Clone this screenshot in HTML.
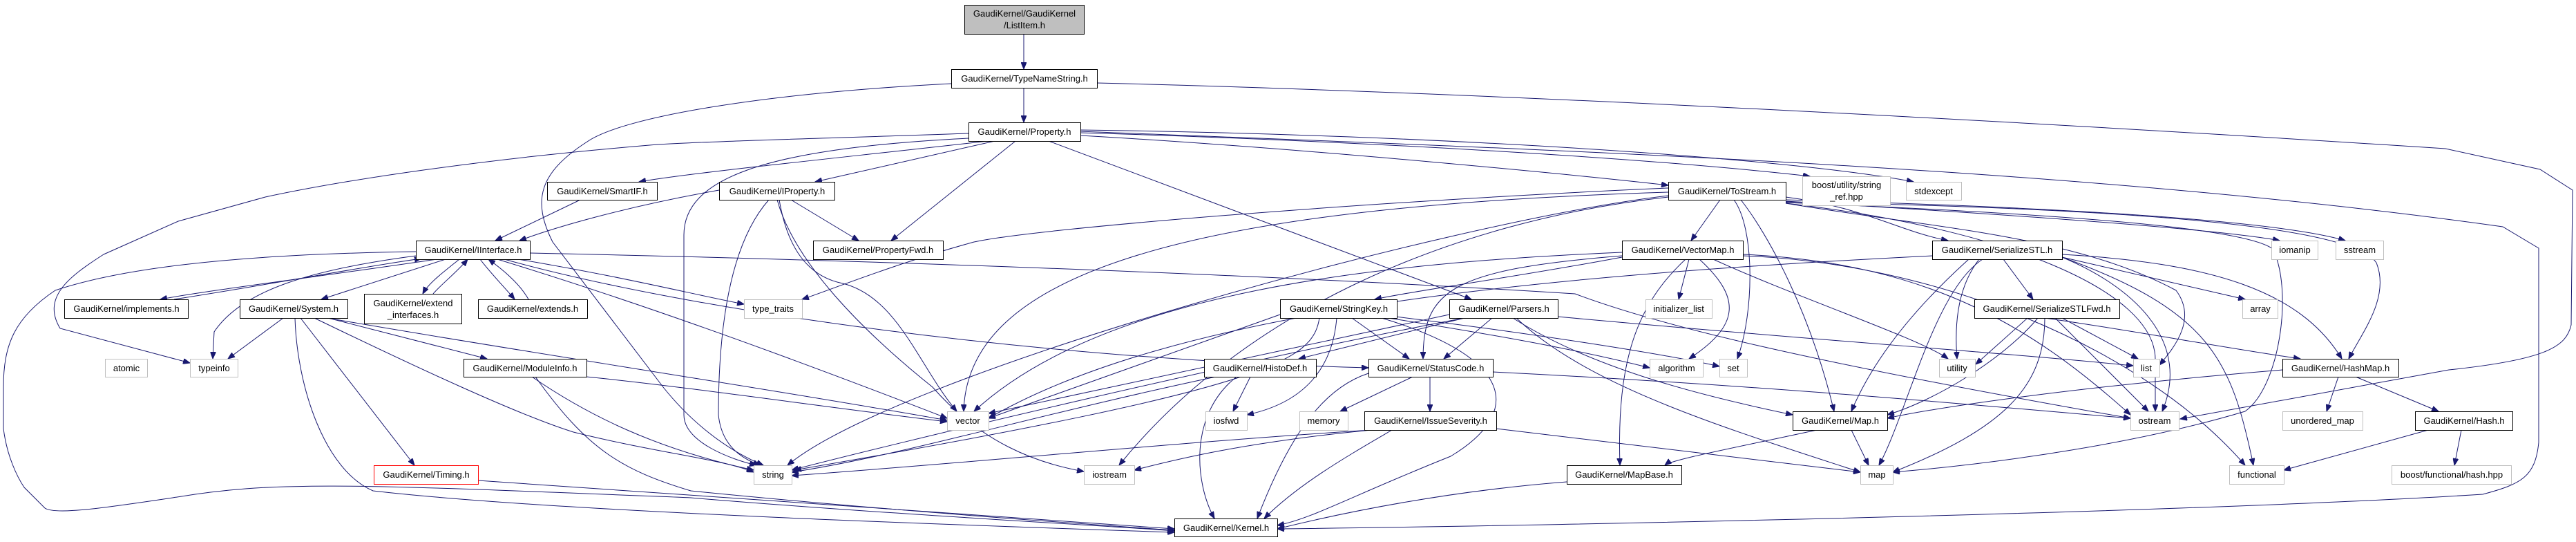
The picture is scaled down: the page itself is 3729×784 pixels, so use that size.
<!DOCTYPE html>
<html><head><meta charset="utf-8"><style>
html,body{margin:0;padding:0;background:#fff;width:3729px;height:784px;overflow:hidden}
svg{display:block}
text{font-family:"Liberation Sans",sans-serif;font-size:13px;fill:#000}
.n{fill:#fff;stroke:#000;stroke-width:1}
.g{fill:#fff;stroke:#bfbfbf;stroke-width:1}
.e{fill:none;stroke:#191970;stroke-width:1;marker-end:url(#a)}
</style></head><body>
<svg width="3729" height="784" viewBox="0 0 3729 784" xmlns="http://www.w3.org/2000/svg">
<defs><marker id="a" markerUnits="userSpaceOnUse" markerWidth="11" markerHeight="8" refX="10" refY="4" orient="auto"><path d="M0,0 L10,4 L0,8 z" fill="#191970" stroke="#191970"/></marker></defs>
<g>
<path class="e" d="M1482,49 L1482,100"/>
<path class="e" d="M1482,127 L1482,177"/>
<path class="e" d="M1377,121 C1100,135 900,170 850,205 C780,250 770,290 800,350 L960,560 C1000,610 1050,650 1105,673"/>
<path class="e" d="M1588,120 C2200,135 3000,180 3540,215 L3677,245 L3724,275 L3722,470 C3715,500 3690,520 3545,535 L3156,606"/>
<path class="e" d="M1564,190 C2200,215 3000,240 3623,328 L3675,359 L3675,640 C3670,690 3650,700 3594,715 C3200,740 2300,760 1849,765"/>
<path class="e" d="M1402,193 C1200,200 1000,205 940,210 C700,230 500,260 384,285 L258,320 L150,368 C100,400 60,430 87,475 L275,525"/>
<path class="e" d="M1430,204 C1200,230 1000,250 925,263"/>
<path class="e" d="M1440,204 L1180,263"/>
<path class="e" d="M1470,204 L1290,348"/>
<path class="e" d="M1564,196 C1900,215 2300,255 2415,268"/>
<path class="e" d="M1564,192 C2000,205 2400,230 2620,255"/>
<path class="e" d="M1564,188 C2100,195 2600,230 2770,263"/>
<path class="e" d="M1518,204 L2130,433"/>
<path class="e" d="M1402,200 C1100,215 990,260 990,340 L990,600 C990,640 1060,665 1095,673"/>
<path class="e" d="M840,289 L717,348"/>
<path class="e" d="M1041,275 C900,300 800,330 752,348"/>
<path class="e" d="M1145,289 L1243,348"/>
<path class="e" d="M1113,289 C1050,360 1040,500 1040,600 C1045,650 1080,665 1100,673"/>
<path class="e" d="M1128,289 C1140,360 1170,400 1220,410 C1300,430 1330,530 1385,595"/>
<path class="e" d="M1125,289 C1150,380 1250,480 1350,560 C1420,640 1500,670 1569,682"/>
<path class="e" d="M632,375 C500,395 300,420 232,433"/>
<path class="e" d="M252,433 C400,410 530,385 610,374"/>
<path class="e" d="M645,375 L465,433"/>
<path class="e" d="M665,375 C640,395 620,410 612,425"/>
<path class="e" d="M627,425 C640,410 660,395 677,375"/>
<path class="e" d="M695,375 C710,395 730,415 745,433"/>
<path class="e" d="M765,433 C755,415 735,395 707,375"/>
<path class="e" d="M602,370 C450,390 350,420 310,480 L308,519"/>
<path class="e" d="M602,364 C400,367 200,380 80,420 C20,460 5,500 5,560 L5,620 C10,660 25,690 35,705 L65,735 C80,745 150,735 250,720 C400,695 500,700 1000,720 C1300,745 1600,760 1700,768"/>
<path class="e" d="M750,375 C900,400 1000,425 1077,440"/>
<path class="e" d="M767,366 C1200,375 1800,395 2280,425 C2400,470 2600,520 3084,605"/>
<path class="e" d="M720,375 C900,430 1100,500 1371,605"/>
<path class="e" d="M730,375 C1000,450 1500,520 1981,532"/>
<path class="e" d="M410,460 L330,519"/>
<path class="e" d="M475,460 L705,519"/>
<path class="e" d="M435,460 L600,673"/>
<path class="e" d="M427,460 C430,560 470,680 540,710 C800,740 1400,760 1700,770"/>
<path class="e" d="M455,460 C600,530 750,600 830,625 C950,655 1050,665 1091,683"/>
<path class="e" d="M474,460 C700,500 1100,560 1371,608"/>
<path class="e" d="M770,545 C850,600 950,650 1091,680"/>
<path class="e" d="M775,545 C850,650 900,680 1000,710 C1300,740 1600,760 1700,767"/>
<path class="e" d="M849,545 C1000,560 1200,590 1371,610"/>
<path class="e" d="M692,695 C1000,715 1400,745 1700,765"/>
<path class="e" d="M2490,289 L2448,348"/>
<path class="e" d="M2510,289 C2540,330 2540,450 2515,519"/>
<path class="e" d="M2520,289 C2560,340 2620,450 2655,595"/>
<path class="e" d="M2415,283 C2100,320 1300,540 1140,673"/>
<path class="e" d="M2415,278 C1700,300 1400,400 1395,595"/>
<path class="e" d="M2585,285 C2700,300 2750,335 2820,348"/>
<path class="e" d="M2585,291 C2900,310 3200,330 3300,348"/>
<path class="e" d="M2585,289 C3000,300 3300,320 3395,348"/>
<path class="e" d="M2585,292 C3000,300 3400,320 3440,380 C3460,430 3420,480 3400,519"/>
<path class="e" d="M2585,294 C2800,330 3000,340 3150,420 C3180,460 3150,500 3126,528"/>
<path class="e" d="M2585,294 C2900,330 3120,420 3120,520 L3120,595"/>
<path class="e" d="M2585,293 C3000,310 3250,330 3290,360 C3320,420 3300,560 3250,595 C3100,640 2900,670 2740,683"/>
<path class="e" d="M2415,272 C2000,290 1500,330 1410,350 C1300,380 1200,420 1161,433"/>
<path class="e" d="M2415,285 C2100,320 1800,450 1620,673"/>
<path class="e" d="M2445,375 L2430,433"/>
<path class="e" d="M2460,375 C2520,430 2520,470 2445,519"/>
<path class="e" d="M2440,375 C2370,440 2340,520 2345,673"/>
<path class="e" d="M2480,375 C2600,430 2780,490 2820,519"/>
<path class="e" d="M2348,370 C2100,390 2060,420 2060,519"/>
<path class="e" d="M2348,365 C2000,380 1600,420 1410,595"/>
<path class="e" d="M2348,372 C2200,400 2050,420 1990,433"/>
<path class="e" d="M2523,368 C2800,380 2950,480 3084,600"/>
<path class="e" d="M2523,370 C2800,380 3100,500 3250,673"/>
<path class="e" d="M1957,460 L2040,519"/>
<path class="e" d="M1910,460 C1900,520 1850,560 1150,680"/>
<path class="e" d="M1853,455 L1431,605"/>
<path class="e" d="M1935,460 C1930,520 1900,580 1805,600"/>
<path class="e" d="M2010,460 C2200,490 2300,510 2388,532"/>
<path class="e" d="M2020,458 C2200,480 2400,510 2489,530"/>
<path class="e" d="M2000,460 C2200,520 2200,600 2100,660 C1950,720 1900,750 1849,760"/>
<path class="e" d="M2160,460 L2090,519"/>
<path class="e" d="M2120,460 L1880,519"/>
<path class="e" d="M2120,460 C1800,520 1300,640 1146,680"/>
<path class="e" d="M2098,455 L1431,598"/>
<path class="e" d="M2190,460 C2300,530 2450,570 2595,600"/>
<path class="e" d="M2195,460 C2300,560 2500,620 2693,683"/>
<path class="e" d="M2255,458 C2600,490 2900,510 3088,529"/>
<path class="e" d="M1810,545 L1785,595"/>
<path class="e" d="M1760,545 C1500,600 1300,660 1146,683"/>
<path class="e" d="M1790,545 C1720,600 1730,700 1758,750"/>
<path class="e" d="M2045,545 L1940,595"/>
<path class="e" d="M2070,545 L2070,595"/>
<path class="e" d="M1981,540 C1920,560 1870,620 1820,750"/>
<path class="e" d="M2161,538 C2600,560 2900,590 3084,605"/>
<path class="e" d="M1985,622 C1700,640 1400,670 1146,688"/>
<path class="e" d="M1985,622 C1800,640 1700,665 1642,680"/>
<path class="e" d="M2015,622 C1950,660 1880,700 1830,750"/>
<path class="e" d="M2166,620 L2693,683"/>
<path class="e" d="M2680,622 L2705,673"/>
<path class="e" d="M2630,622 C2500,650 2420,665 2410,673"/>
<path class="e" d="M2268,697 C2100,710 1950,740 1849,765"/>
<path class="e" d="M2900,375 L2943,433"/>
<path class="e" d="M2865,375 C2830,420 2830,480 2833,519"/>
<path class="e" d="M2985,372 L3250,433"/>
<path class="e" d="M2985,368 C3200,380 3330,420 3390,519"/>
<path class="e" d="M2985,372 C3100,420 3170,500 3130,595"/>
<path class="e" d="M2985,372 C3200,450 3230,520 3262,673"/>
<path class="e" d="M2870,375 C2800,420 2760,600 2720,673"/>
<path class="e" d="M2850,375 C2800,420 2720,500 2680,595"/>
<path class="e" d="M2797,370 C2200,400 1700,450 1431,605"/>
<path class="e" d="M2935,460 L2860,527"/>
<path class="e" d="M2985,460 L3095,519"/>
<path class="e" d="M2960,460 C3100,480 3200,500 3330,519"/>
<path class="e" d="M2975,460 L3110,595"/>
<path class="e" d="M2950,460 C2900,520 2800,580 2732,600"/>
<path class="e" d="M2960,460 C2960,560 2900,620 2740,683"/>
<path class="e" d="M3304,535 C3000,560 2800,590 2732,605"/>
<path class="e" d="M3385,545 L3368,595"/>
<path class="e" d="M3410,545 L3530,595"/>
<path class="e" d="M3515,622 L3306,680"/>
<path class="e" d="M3563,622 L3553,673"/>
</g>
<g text-anchor="middle">
<rect x="1396.5" y="7.5" width="173" height="42" fill="#bfbfbf" stroke="#000"/><text x="1483" y="24">GaudiKernel/GaudiKernel</text><text x="1483" y="41">/ListItem.h</text>
<rect class="n" x="1377.5" y="100.5" width="211" height="27"/><text x="1483" y="118">GaudiKernel/TypeNameString.h</text>
<rect class="n" x="1402.5" y="177.5" width="162" height="27"/><text x="1483" y="195">GaudiKernel/Property.h</text>
<rect class="n" x="792.5" y="263.5" width="159" height="26"/><text x="872" y="281">GaudiKernel/SmartIF.h</text>
<rect class="n" x="1041.5" y="263.5" width="167" height="26"/><text x="1125" y="281">GaudiKernel/IProperty.h</text>
<rect class="n" x="2415.5" y="263.5" width="170" height="26"/><text x="2500" y="281">GaudiKernel/ToStream.h</text>
<rect class="g" x="2609.5" y="255.5" width="127" height="42"/><text x="2673" y="272">boost/utility/string</text><text x="2673" y="289">_ref.hpp</text>
<rect class="g" x="2759.5" y="263.5" width="80" height="26"/><text x="2799" y="281">stdexcept</text>
<rect class="n" x="602.5" y="348.5" width="165" height="27"/><text x="685" y="366">GaudiKernel/IInterface.h</text>
<rect class="n" x="1177.5" y="348.5" width="188" height="27"/><text x="1271" y="366">GaudiKernel/PropertyFwd.h</text>
<rect class="n" x="2348.5" y="348.5" width="175" height="27"/><text x="2436" y="366">GaudiKernel/VectorMap.h</text>
<rect class="n" x="2797.5" y="348.5" width="188" height="27"/><text x="2891" y="366">GaudiKernel/SerializeSTL.h</text>
<rect class="g" x="3288.5" y="348.5" width="67" height="27"/><text x="3322" y="366">iomanip</text>
<rect class="g" x="3381.5" y="348.5" width="69" height="27"/><text x="3416" y="366">sstream</text>
<rect class="n" x="93.5" y="433.5" width="179" height="27"/><text x="183" y="451">GaudiKernel/implements.h</text>
<rect class="n" x="347.5" y="433.5" width="156" height="27"/><text x="425" y="451">GaudiKernel/System.h</text>
<rect class="n" x="527.5" y="425.5" width="141" height="43"/><text x="598" y="443">GaudiKernel/extend</text><text x="598" y="460">_interfaces.h</text>
<rect class="n" x="692.5" y="433.5" width="158" height="27"/><text x="771" y="451">GaudiKernel/extends.h</text>
<rect class="g" x="1077.5" y="433.5" width="84" height="27"/><text x="1119" y="451">type_traits</text>
<rect class="n" x="1853.5" y="433.5" width="169" height="27"/><text x="1938" y="451">GaudiKernel/StringKey.h</text>
<rect class="n" x="2098.5" y="433.5" width="157" height="27"/><text x="2177" y="451">GaudiKernel/Parsers.h</text>
<rect class="g" x="2382.5" y="433.5" width="96" height="27"/><text x="2430" y="451">initializer_list</text>
<rect class="n" x="2858.5" y="433.5" width="210" height="27"/><text x="2963" y="451">GaudiKernel/SerializeSTLFwd.h</text>
<rect class="g" x="3246.5" y="433.5" width="51" height="27"/><text x="3272" y="451">array</text>
<rect class="g" x="152.5" y="519.5" width="61" height="26"/><text x="183" y="537">atomic</text>
<rect class="g" x="275.5" y="519.5" width="69" height="26"/><text x="310" y="537">typeinfo</text>
<rect class="n" x="671.5" y="519.5" width="178" height="26"/><text x="760" y="537">GaudiKernel/ModuleInfo.h</text>
<rect class="n" x="1743.5" y="519.5" width="162" height="26"/><text x="1824" y="537">GaudiKernel/HistoDef.h</text>
<rect class="n" x="1981.5" y="519.5" width="180" height="26"/><text x="2071" y="537">GaudiKernel/StatusCode.h</text>
<rect class="g" x="2388.5" y="519.5" width="77" height="26"/><text x="2427" y="537">algorithm</text>
<rect class="g" x="2489.5" y="519.5" width="40" height="26"/><text x="2509" y="537">set</text>
<rect class="g" x="2807.5" y="519.5" width="52" height="26"/><text x="2833" y="537">utility</text>
<rect class="g" x="3088.5" y="519.5" width="38" height="26"/><text x="3107" y="537">list</text>
<rect class="n" x="3304.5" y="519.5" width="168" height="26"/><text x="3388" y="537">GaudiKernel/HashMap.h</text>
<rect class="g" x="1371.5" y="595.5" width="60" height="27"/><text x="1401" y="613">vector</text>
<rect class="g" x="1745.5" y="595.5" width="60" height="27"/><text x="1775" y="613">iosfwd</text>
<rect class="g" x="1881.5" y="595.5" width="70" height="27"/><text x="1916" y="613">memory</text>
<rect class="n" x="1975.5" y="595.5" width="191" height="27"/><text x="2071" y="613">GaudiKernel/IssueSeverity.h</text>
<rect class="n" x="2595.5" y="595.5" width="137" height="27"/><text x="2664" y="613">GaudiKernel/Map.h</text>
<rect class="g" x="3084.5" y="595.5" width="70" height="27"/><text x="3119" y="613">ostream</text>
<rect class="g" x="3304.5" y="595.5" width="116" height="27"/><text x="3362" y="613">unordered_map</text>
<rect class="n" x="3496.5" y="595.5" width="141" height="27"/><text x="3567" y="613">GaudiKernel/Hash.h</text>
<rect x="541.5" y="673.5" width="151" height="27" fill="#fff" stroke="#ff0000"/><text x="617" y="691">GaudiKernel/Timing.h</text>
<rect class="g" x="1091.5" y="673.5" width="55" height="27"/><text x="1119" y="691">string</text>
<rect class="g" x="1569.5" y="673.5" width="73" height="27"/><text x="1606" y="691">iostream</text>
<rect class="n" x="2268.5" y="673.5" width="166" height="27"/><text x="2351" y="691">GaudiKernel/MapBase.h</text>
<rect class="g" x="2693.5" y="673.5" width="47" height="27"/><text x="2717" y="691">map</text>
<rect class="g" x="3227.5" y="673.5" width="79" height="27"/><text x="3267" y="691">functional</text>
<rect class="g" x="3462.5" y="673.5" width="173" height="27"/><text x="3549" y="691">boost/functional/hash.hpp</text>
<rect class="n" x="1700.5" y="750.5" width="149" height="26"/><text x="1775" y="768">GaudiKernel/Kernel.h</text>
</g>
</svg>
</body></html>
